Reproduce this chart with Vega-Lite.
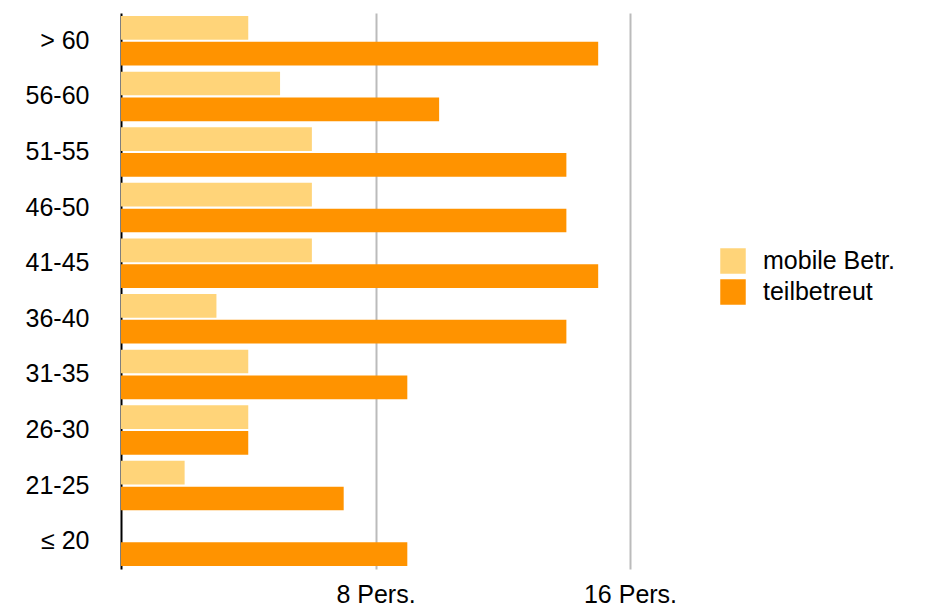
{
  "$schema": "https://vega.github.io/schema/vega-lite/v6.json",
  "width": 509,
  "height": 556,
  "autosize": "none",
  "padding": {"left": 121, "top": 13, "right": 296, "bottom": 37},
  "background": "white",
  "config": {"view": {"stroke": null}, "font": "Liberation Sans"},
  "data": {"values": [
    {"age": "> 60", "typ": "mobile Betr.", "n": 4},
    {"age": "> 60", "typ": "teilbetreut", "n": 15},
    {"age": "56-60", "typ": "mobile Betr.", "n": 5},
    {"age": "56-60", "typ": "teilbetreut", "n": 10},
    {"age": "51-55", "typ": "mobile Betr.", "n": 6},
    {"age": "51-55", "typ": "teilbetreut", "n": 14},
    {"age": "46-50", "typ": "mobile Betr.", "n": 6},
    {"age": "46-50", "typ": "teilbetreut", "n": 14},
    {"age": "41-45", "typ": "mobile Betr.", "n": 6},
    {"age": "41-45", "typ": "teilbetreut", "n": 15},
    {"age": "36-40", "typ": "mobile Betr.", "n": 3},
    {"age": "36-40", "typ": "teilbetreut", "n": 14},
    {"age": "31-35", "typ": "mobile Betr.", "n": 4},
    {"age": "31-35", "typ": "teilbetreut", "n": 9},
    {"age": "26-30", "typ": "mobile Betr.", "n": 4},
    {"age": "26-30", "typ": "teilbetreut", "n": 4},
    {"age": "21-25", "typ": "mobile Betr.", "n": 2},
    {"age": "21-25", "typ": "teilbetreut", "n": 7},
    {"age": "≤ 20", "typ": "mobile Betr.", "n": 0},
    {"age": "≤ 20", "typ": "teilbetreut", "n": 9}
  ]},
  "mark": {"type": "bar"},
  "encoding": {
    "y": {
      "field": "age", "type": "nominal",
      "sort": ["> 60", "56-60", "51-55", "46-50", "41-45", "36-40", "31-35", "26-30", "21-25", "≤ 20"],
      "scale": {"paddingInner": 0.11, "paddingOuter": 0.055},
      "axis": {"title": null, "ticks": false, "domainColor": "black", "domainWidth": 2,
               "labelFontSize": 25, "labelColor": "black", "labelPadding": 32, "labelFont": "Liberation Sans"}
    },
    "yOffset": {
      "field": "typ", "type": "nominal",
      "sort": ["mobile Betr.", "teilbetreut"],
      "scale": {"paddingInner": 0.08}
    },
    "x": {
      "field": "n", "type": "quantitative",
      "scale": {"domain": [0, 16], "nice": false},
      "axis": {"title": null, "values": [8, 16], "labelExpr": "datum.value + ' Pers.'",
               "labelFlush": false, "labelOverlap": false,
               "domain": false, "ticks": false, "grid": true, "gridColor": "#bbbbbb", "gridWidth": 2,
               "labelFontSize": 25, "labelColor": "black", "labelPadding": 13, "labelFont": "Liberation Sans"}
    },
    "color": {
      "field": "typ", "type": "nominal",
      "scale": {"domain": ["mobile Betr.", "teilbetreut"], "range": ["#FFD479", "#FF9300"]},
      "legend": {"title": null, "orient": "none", "legendX": 599, "legendY": 235,
                 "symbolType": "square", "symbolSize": 650, "symbolStrokeWidth": 0,
                 "labelFontSize": 25, "labelColor": "black", "labelFont": "Liberation Sans",
                 "rowPadding": 5, "labelOffset": 17}
    }
  }
}
